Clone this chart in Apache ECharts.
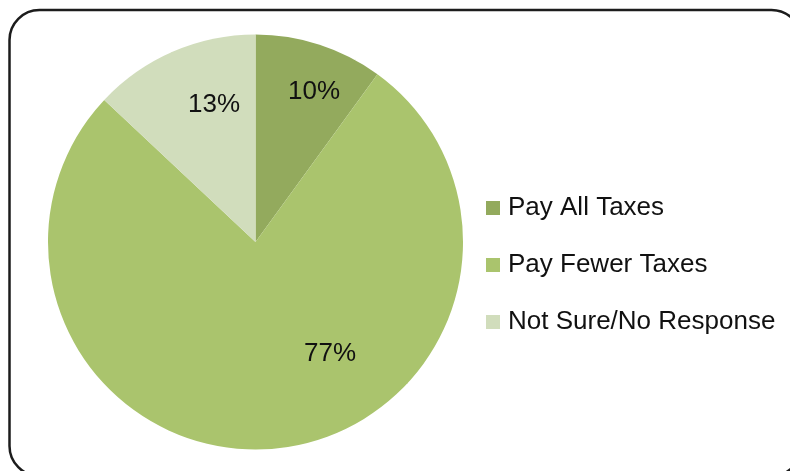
<!DOCTYPE html>
<html><head><meta charset="utf-8">
<script src="https://cdn.jsdelivr.net/npm/echarts@6/dist/echarts.min.js"></script>
<style>html,body{margin:0;padding:0;background:#fff;}#c{width:790px;height:471px;}</style>
</head><body><div id="c"></div>
<script>
const categories = ['Pay All Taxes', 'Pay Fewer Taxes', 'Not Sure/No Response'];
const values = [10, 77, 13];
const colors = ['#93aa5d', '#aac46d', '#d1ddbc'];
const labelPos = [[314, 92], [330, 354], [214, 105]];
const FONT = '"Liberation Sans", Arial, sans-serif';

const chart = echarts.init(document.getElementById('c'), null, {renderer: 'canvas'});
chart.setOption({
  animation: false,
  backgroundColor: '#fff',
  graphic: [{
    type: 'rect', z: 0,
    shape: {x: 9.5, y: 10, width: 792, height: 466, r: 30},
    style: {fill: 'none', stroke: '#1c1c1c', lineWidth: 2.5}
  }],
  legend: {
    orient: 'vertical', left: 481, top: 190,
    itemWidth: 14, itemHeight: 14, itemGap: 31,
    icon: 'rect',
    textStyle: {fontFamily: FONT, fontSize: 26, color: '#111', padding: [6, 0, 0, 3]},
    data: categories
  },
  series: [{
    type: 'pie', center: [255.5, 242], radius: 207.5,
    startAngle: 90, clockwise: true,
    itemStyle: {borderWidth: 0},
    label: {show: true, position: 'inside', fontFamily: FONT, fontSize: 26, color: '#111',
      formatter: p => p.value + '%'},
    labelLayout: p => ({x: labelPos[p.dataIndex][0], y: labelPos[p.dataIndex][1], align: 'center', verticalAlign: 'middle'}),
    emphasis: {disabled: true},
    data: categories.map((n, i) => ({name: n, value: values[i], itemStyle: {color: colors[i]}}))
  }]
});
</script></body></html>
